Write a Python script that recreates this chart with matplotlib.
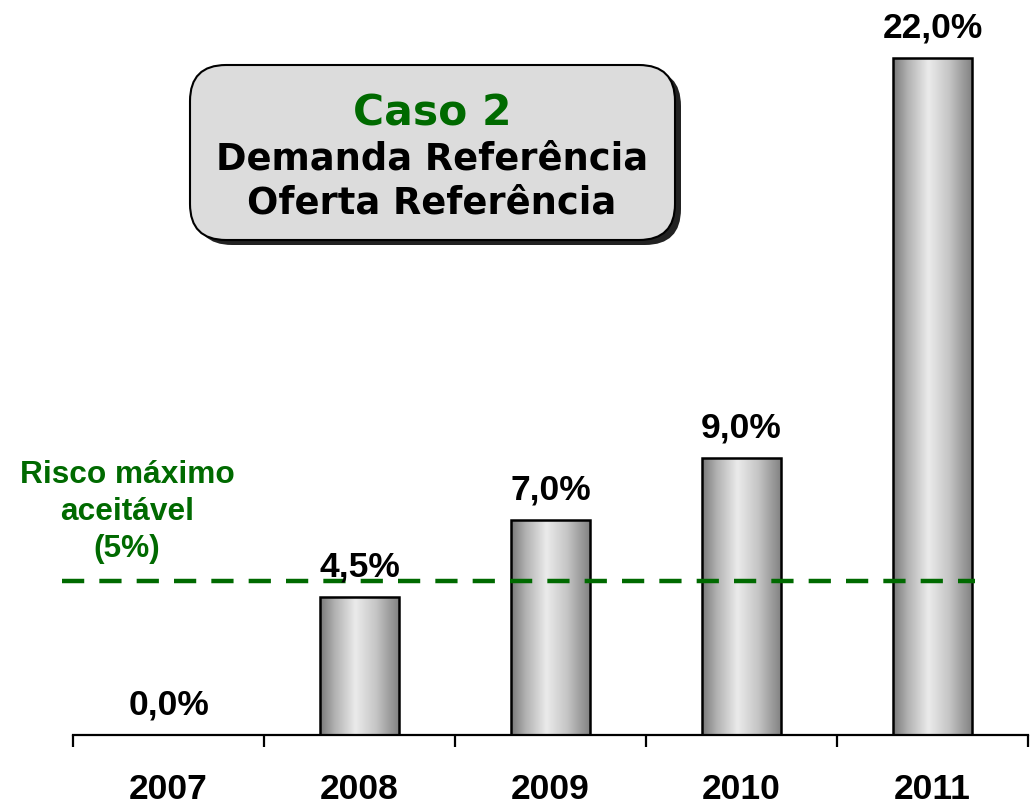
import matplotlib
matplotlib.use("Agg")
import matplotlib.pyplot as plt
import numpy as np
from matplotlib.patches import FancyBboxPatch
from matplotlib.colors import LinearSegmentedColormap

years = ["2007", "2008", "2009", "2010", "2011"]
risk = [0.0, 4.5, 7.0, 9.0, 22.0]
risk_labels = ["0,0%", "4,5%", "7,0%", "9,0%", "22,0%"]
limit = 5.0
limit_label = ["Risco máximo", "aceitável", "(5%)"]
title_case = "Caso 2"
title_line1 = "Demanda Referência"
title_line2 = "Oferta Referência"

GREEN = "#006a00"
ARIAL = ["Liberation Sans", "DejaVu Sans"]
VERD = ["DejaVu Sans"]
H = 805.0

fig = plt.figure(figsize=(10.3, 8.05), dpi=100)
ax = fig.add_axes([73 / 1030, 70 / H, 955 / 1030, 735 / H])
x = np.arange(len(years))
ax.set_xlim(-0.5, 4.5)
ax.set_ylim(0, 735 / 30.77)

bars = ax.bar(x, risk, width=0.41, color="none", edgecolor="black", linewidth=1.8, zorder=3)

cmap = LinearSegmentedColormap.from_list(
    "cyl", [(0, "#787878"), (0.18, "#b0b0b0"), (0.45, "#ebebeb"), (0.72, "#c4c4c4"), (1, "#828282")])
grad = np.linspace(0, 1, 256).reshape(1, -1)
for b in bars:
    if b.get_height() <= 0:
        continue
    x0, y0 = b.get_x(), b.get_y()
    w, h = b.get_width(), b.get_height()
    im = ax.imshow(grad, cmap=cmap, extent=[x0, x0 + w, y0, y0 + h], aspect="auto",
                   interpolation="bicubic", zorder=2)
    im.set_clip_path(b)

for xi, v, lab in zip(x, risk, risk_labels):
    ax.annotate(lab, (xi, v), xytext=(0, 14.5), textcoords="offset points",
                ha="center", va="baseline", fontsize=25.5, fontweight="bold",
                family=ARIAL, color="black", zorder=5)

# limit line
ax.plot([-0.558, 4.222], [limit, limit], ls=(0, (5, 3.4)), lw=3.2, color=GREEN,
        clip_on=False, zorder=4)
for line, base_px in zip(limit_label, [483, 520, 557]):
    fig.text(127 / 1030, 1 - base_px / H, line, ha="center", va="baseline", fontsize=22.8,
             fontweight="bold", family=ARIAL, color=GREEN)

# axes styling
for s in ["left", "right", "top"]:
    ax.spines[s].set_visible(False)
ax.spines["bottom"].set_linewidth(1.6)
ax.set_yticks([])
ax.set_xticks(np.arange(-0.5, 5.0, 1.0))
ax.set_xticklabels([])
ax.tick_params(axis="x", length=8.5, width=1.6, direction="out")
ax.set_xticks(x, minor=True)
ax.set_xticklabels(years, minor=True, fontsize=25.5, fontweight="bold", family=ARIAL)
ax.tick_params(axis="x", which="minor", length=0, pad=27)

# title box
bx0, by0, bw, bh = 190 / 1030, 1 - 240 / H, 485 / 1030, 175 / H
shadow = FancyBboxPatch((bx0 + 6 / 1030, by0 - 5 / H), bw, bh,
                        boxstyle="round,pad=0,rounding_size=0.035",
                        transform=fig.transFigure, facecolor="#222222", edgecolor="none",
                        mutation_aspect=1030 / H, zorder=1)
box = FancyBboxPatch((bx0, by0), bw, bh, boxstyle="round,pad=0,rounding_size=0.035",
                     transform=fig.transFigure, facecolor="#dcdcdc", edgecolor="black",
                     linewidth=1.5, mutation_aspect=1030 / H, zorder=2)
fig.patches.extend([shadow, box])
fig.text(432 / 1030, 1 - 125 / H, title_case, ha="center", va="baseline", fontsize=30.5,
         fontweight="bold", family=VERD, color=GREEN, zorder=3)
fig.text(432 / 1030, 1 - 170 / H, title_line1, ha="center", va="baseline", fontsize=26.5,
         fontweight="bold", family=VERD, color="black", zorder=3)
fig.text(432 / 1030, 1 - 213 / H, title_line2, ha="center", va="baseline", fontsize=26.5,
         fontweight="bold", family=VERD, color="black", zorder=3)

fig.savefig("out.png", dpi=100)
